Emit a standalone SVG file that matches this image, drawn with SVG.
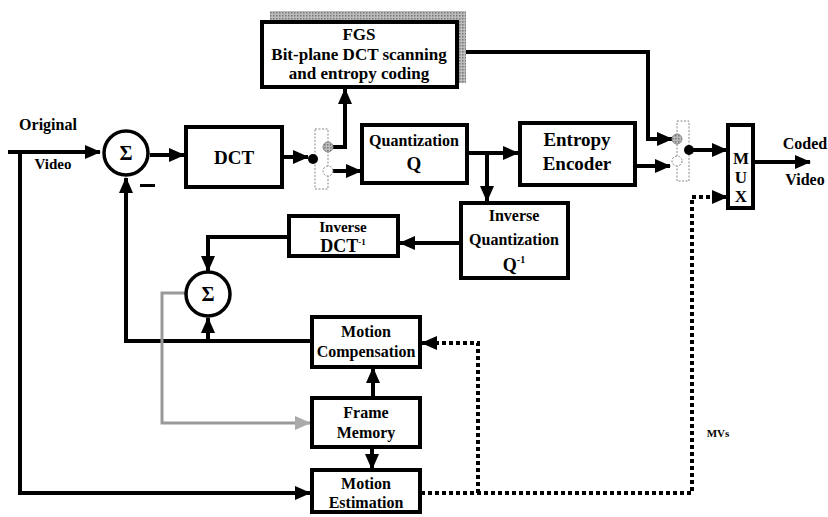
<svg xmlns="http://www.w3.org/2000/svg" width="828" height="517" viewBox="0 0 828 517">
<defs>
<marker id="ah" markerWidth="16" markerHeight="14" refX="15" refY="7" orient="auto" markerUnits="userSpaceOnUse"><path d="M0,0 L16,7 L0,14 Z" fill="#000"/></marker>
<marker id="ahg" markerWidth="16" markerHeight="14" refX="15" refY="7" orient="auto" markerUnits="userSpaceOnUse"><path d="M0,0 L16,7 L0,14 Z" fill="#aaa"/></marker>
<pattern id="hatch" width="3" height="3" patternUnits="userSpaceOnUse"><rect width="3" height="3" fill="#bbb"/><rect width="1.5" height="1.5" fill="#777"/></pattern>
</defs>
<style>
.box{fill:#fff;stroke:#000;stroke-width:4}
.ln{fill:none;stroke:#000;stroke-width:4}
.dot{fill:none;stroke:#000;stroke-width:4;stroke-dasharray:4 3}
.gl{fill:none;stroke:#999;stroke-width:3}
.t{font-weight:bold;fill:#000;text-anchor:middle}
.sw{fill:#fff;stroke:#888;stroke-width:1;stroke-dasharray:2 1.5}
</style>
<g id="connectors">
<path class="ln" d="M8,152 H100" marker-end="url(#ah)"/>
<path class="ln" d="M20,152 V493 H310" marker-end="url(#ah)"/>
<path class="ln" d="M150,155 H184" marker-end="url(#ah)"/>
<path class="ln" d="M282,157 H308" marker-end="url(#ah)"/>
<path class="ln" d="M333,147 H345 V89" marker-end="url(#ah)"/>
<path class="ln" d="M332,171 H361" marker-end="url(#ah)"/>
<path class="ln" d="M467,153 H518" marker-end="url(#ah)"/>
<path class="ln" d="M487,153 V201" marker-end="url(#ah)"/>
<path class="ln" d="M461,243 H400" marker-end="url(#ah)"/>
<path class="ln" d="M289,237 H208 V271" marker-end="url(#ah)"/>
<path class="ln" d="M312,341 H126 V178" marker-end="url(#ah)"/>
<path class="ln" d="M208,341 V318" marker-end="url(#ah)"/>
<path class="ln" d="M373,398 V368" marker-end="url(#ah)"/>
<path class="ln" d="M372,447 V469" marker-end="url(#ah)"/>
<path class="gl" d="M186,293 H162 V423 H310" marker-end="url(#ahg)"/>
<path class="ln" d="M457,52 H648 V139 H672" marker-end="url(#ah)"/>
<path class="ln" d="M635,166 H670" marker-end="url(#ah)"/>
<path class="ln" d="M689,150 H727" marker-end="url(#ah)"/>
<path class="ln" d="M753,162 H810" marker-end="url(#ah)"/>
<path class="dot" d="M421,493 H692 V197 H712"/>
<path class="ln" d="M712,197 H727" marker-end="url(#ah)"/>
<path class="dot" d="M478,493 V343 H436"/>
<path class="ln" d="M438,343 H422" marker-end="url(#ah)"/>
</g>
<g font-family="Liberation Serif, Times New Roman, serif">
<g id="labels">
<text class="t" x="48" y="130" font-size="16">Original</text>
<text class="t" x="53" y="169" font-size="15">Video</text>
<rect x="140" y="184" width="15" height="3" fill="#000"/>
<text class="t" x="805" y="149" font-size="16">Coded</text>
<text class="t" x="805" y="185" font-size="16">Video</text>
<text class="t" x="718" y="437" font-size="11">MVs</text>
</g>
<g id="sum1"><circle cx="126" cy="153" r="22" fill="#fff" stroke="#000" stroke-width="3.5"/><text class="t" x="126" y="160" font-size="20">Σ</text></g>
<g id="sum2"><circle cx="208" cy="294" r="22" fill="#fff" stroke="#000" stroke-width="3.5"/><text class="t" x="208" y="301" font-size="20">Σ</text></g>
<g id="dct"><rect class="box" x="186" y="127" width="96" height="60"/><text class="t" x="234" y="164" font-size="19">DCT</text></g>
<g id="switch1"><rect class="sw" x="315" y="129" width="13" height="60"/><circle cx="313" cy="159" r="5" fill="#000"/><circle cx="328" cy="147" r="5" fill="url(#hatch)" stroke="#888" stroke-width="1"/><circle cx="328" cy="171" r="5" fill="#fff" stroke="#888" stroke-width="1" stroke-dasharray="2 1.5"/></g>
<g id="fgs"><rect x="270" y="11" width="196" height="72" fill="url(#hatch)"/><rect class="box" x="262" y="22" width="195" height="65"/><text class="t" x="359" y="40" font-size="17">FGS</text><text class="t" x="359" y="60" font-size="17">Bit-plane DCT scanning</text><text class="t" x="359" y="79" font-size="17">and entropy coding</text></g>
<g id="quant"><rect class="box" x="362" y="125" width="105" height="58"/><text class="t" x="414" y="146" font-size="16">Quantization</text><text class="t" x="414" y="170" font-size="19">Q</text></g>
<g id="entropy"><rect class="box" x="520" y="123" width="115" height="62"/><text class="t" x="577" y="146" font-size="19">Entropy</text><text class="t" x="577" y="170" font-size="19">Encoder</text></g>
<g id="invquant"><rect class="box" x="461" y="203" width="107" height="75"/><text class="t" x="514" y="221" font-size="16">Inverse</text><text class="t" x="514" y="245" font-size="16">Quantization</text><text class="t" x="514" y="271" font-size="18">Q<tspan font-size="10" dy="-8">-1</tspan></text></g>
<g id="invdct"><rect class="box" x="289" y="216" width="109" height="40"/><text class="t" x="343" y="232" font-size="15">Inverse</text><text class="t" x="343" y="252" font-size="18">DCT<tspan font-size="9" dy="-7">-1</tspan></text></g>
<g id="mc"><rect class="box" x="312" y="317" width="108" height="50"/><text class="t" x="366" y="337" font-size="16">Motion</text><text class="t" x="366" y="357" font-size="16">Compensation</text></g>
<g id="fm"><rect class="box" x="312" y="398" width="108" height="49"/><text class="t" x="366" y="418" font-size="16">Frame</text><text class="t" x="366" y="438" font-size="16">Memory</text></g>
<g id="me"><rect class="box" x="312" y="470" width="108" height="42"/><text class="t" x="366" y="489" font-size="16">Motion</text><text class="t" x="366" y="508" font-size="16">Estimation</text></g>
<g id="switch2"><rect class="sw" x="677" y="121" width="12" height="60"/><circle cx="689" cy="150" r="5" fill="#000"/><circle cx="677" cy="139" r="5" fill="url(#hatch)" stroke="#888" stroke-width="1"/><circle cx="677" cy="161" r="5" fill="#fff" stroke="#888" stroke-width="1" stroke-dasharray="2 1.5"/></g>
<g id="mux"><rect class="box" x="728" y="125" width="25" height="83"/><text class="t" x="741" y="164" font-size="17">M</text><text class="t" x="741" y="183" font-size="17">U</text><text class="t" x="741" y="202" font-size="17">X</text></g>
</g>
</svg>
